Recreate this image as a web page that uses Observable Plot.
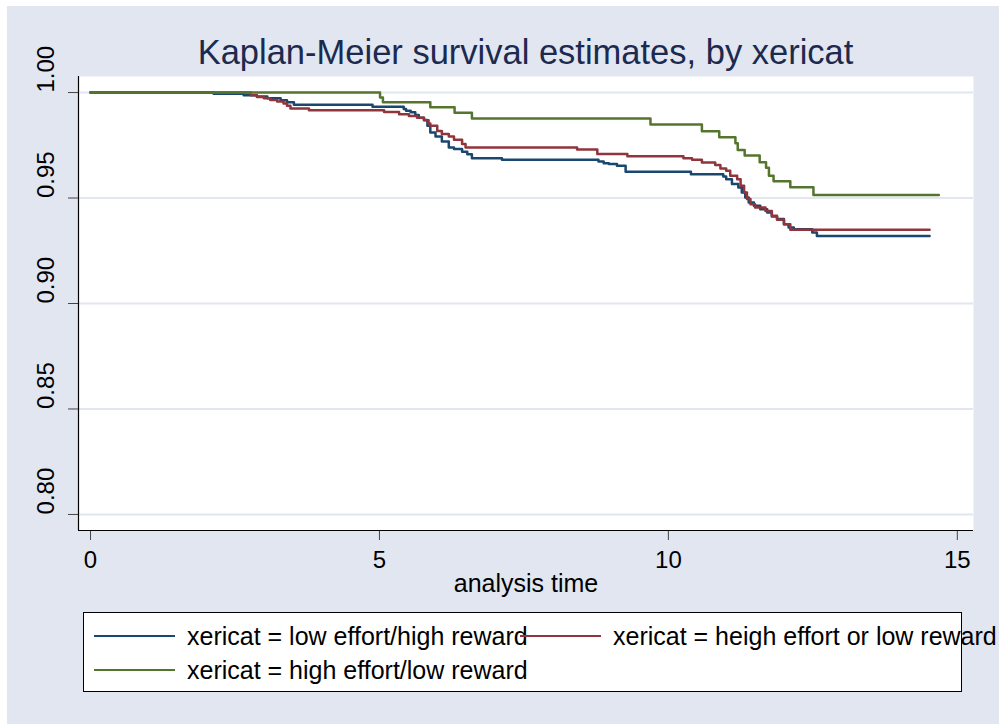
<!DOCTYPE html>
<html>
<head>
<meta charset="utf-8">
<script src="https://cdn.jsdelivr.net/npm/d3@7"></script>
<script src="https://cdn.jsdelivr.net/npm/@observablehq/plot@0.6"></script>
<style>
  html, body { margin: 0; padding: 0; background: #ffffff; }
  #wrap { position: relative; width: 1003px; height: 724px; overflow: hidden; font-family: "Liberation Sans", Arial, sans-serif; }
  #bg { position: absolute; left: 7px; top: 6px; width: 992px; height: 718px; background: #e1e6f0; }
  #chart { position: absolute; left: 0; top: 0; }
  #title { position: absolute; left: 78px; width: 895px; top: 32px; text-align: center; font-size: 34.5px; line-height: 40px; color: #1c2a4f; white-space: nowrap; }
  #legend { position: absolute; left: 83px; top: 612px; width: 879px; height: 80px; background: #fff; border: 1px solid #000; box-sizing: border-box; overflow: visible; }
  .item { position: absolute; font-size: 25px; line-height: 30px; color: #000; white-space: nowrap; }
  .swatch { position: absolute; height: 2px; width: 81px; }
</style>
</head>
<body>
<div id="wrap">
  <div id="bg"></div>
  <div id="title"></div>
  <div id="chart"></div>
  <div id="legend"></div>
</div>
<script>
// ---- data ----
const titleText = "Kaplan-Meier survival estimates, by xericat";
const xLabel = "analysis time";
const seriesNames = [
  "xericat = low effort/high reward",
  "xericat = heigh effort or low reward",
  "xericat = high effort/low reward"
];
const seriesColors = ["#1a476f", "#90353b", "#55752f"];
const xTicks = [0, 5, 10, 15];
const yTicks = [0.80, 0.85, 0.90, 0.95, 1.00];

const lowT = [0, 2.13, 2.65, 2.88, 3.06, 3.29, 3.40, 3.52, 4.88, 5.42, 5.46, 5.54, 5.62, 5.68, 5.77, 5.83, 5.88, 5.97, 6.08, 6.20, 6.29, 6.43, 6.52, 6.60, 7.12, 8.79, 8.88, 8.97, 9.11, 9.26, 10.39, 10.95, 11.00, 11.10, 11.21, 11.27, 11.33, 11.39, 11.48, 11.59, 11.71, 11.79, 11.88, 12.00, 12.08, 12.17, 12.49, 12.57, 14.52];
const lowS = [1.000, 0.9994, 0.9987, 0.9981, 0.9973, 0.9964, 0.9954, 0.9942, 0.9933, 0.9922, 0.9914, 0.9906, 0.9893, 0.9881, 0.9870, 0.9842, 0.9811, 0.9792, 0.9768, 0.9740, 0.9732, 0.9719, 0.9708, 0.9689, 0.9681, 0.9673, 0.9665, 0.9661, 0.9653, 0.9624, 0.9613, 0.9602, 0.9589, 0.9566, 0.9550, 0.9526, 0.9502, 0.9479, 0.9463, 0.9447, 0.9431, 0.9412, 0.9400, 0.9376, 0.9360, 0.9352, 0.9336, 0.9320, 0.9320];

const heighT = [0, 2.77, 2.88, 3.00, 3.11, 3.23, 3.34, 3.40, 3.46, 3.78, 5.08, 5.34, 5.51, 5.65, 5.77, 5.85, 5.88, 6.00, 6.08, 6.20, 6.29, 6.43, 6.49, 8.42, 8.77, 9.29, 10.26, 10.41, 10.58, 10.81, 10.90, 11.00, 11.07, 11.19, 11.25, 11.31, 11.36, 11.42, 11.50, 11.68, 11.79, 11.88, 12.00, 12.11, 14.52];
const heighS = [1.000, 0.9987, 0.9979, 0.9973, 0.9965, 0.9957, 0.9948, 0.9937, 0.9924, 0.9916, 0.9908, 0.9897, 0.9889, 0.9881, 0.9869, 0.9853, 0.9842, 0.9818, 0.9803, 0.9792, 0.9776, 0.9756, 0.9739, 0.9730, 0.9709, 0.9698, 0.9689, 0.9681, 0.9668, 0.9657, 0.9640, 0.9629, 0.9606, 0.9589, 0.9558, 0.9526, 0.9495, 0.9471, 0.9455, 0.9439, 0.9416, 0.9397, 0.9376, 0.9350, 0.9350];

const highT = [0, 5.01, 5.06, 5.88, 6.30, 6.60, 9.69, 10.58, 10.88, 11.16, 11.20, 11.32, 11.58, 11.69, 11.74, 11.82, 12.11, 12.51, 14.68];
const highS = [1.000, 0.9976, 0.9954, 0.9930, 0.9904, 0.9877, 0.9848, 0.9817, 0.9788, 0.9760, 0.9728, 0.9701, 0.9669, 0.9643, 0.9606, 0.9579, 0.9551, 0.9514, 0.9514];

// ---- build table ----
const seriesT = [lowT, heighT, highT];
const seriesS = [lowS, heighS, highS];
const data = [];
seriesNames.forEach((name, i) => {
  seriesT[i].forEach((t, j) => data.push({series: name, t, s: seriesS[i][j]}));
});

const xDomain = [-0.208, 15.28];
const yDomain = [0.7924, 1.0076];

document.getElementById("title").textContent = titleText;

const chart = Plot.plot({
  width: 1003,
  height: 600,
  marginLeft: 78,
  marginRight: 30,
  marginTop: 76,
  marginBottom: 70,
  style: {background: "transparent", fontFamily: "'Liberation Sans', Arial, sans-serif", color: "#000"},
  x: {domain: xDomain},
  y: {domain: yDomain},
  color: {domain: seriesNames, range: seriesColors},
  marks: [
    Plot.frame({fill: "white", stroke: "none"}),
    Plot.ruleY(yTicks, {stroke: "#e1e6f0", strokeWidth: 2}),
    Plot.line(data, {x: "t", y: "s", z: "series", stroke: "series", curve: "step-after", strokeWidth: 2.5}),
    Plot.axisY({ticks: yTicks, tickSize: 10, tickFormat: () => "", stroke: "#444", label: null}),
    Plot.text(yTicks, {frameAnchor: "left", y: d => d, text: d => d.toFixed(2), rotate: -90, dx: -32, fontSize: 24, fill: "#000"}),
    Plot.axisX({ticks: xTicks, tickSize: 10, tickPadding: 10, fontSize: 24, stroke: "#444", fill: "#000", label: null}),
    Plot.text([xLabel], {frameAnchor: "bottom", dy: 61, fontSize: 25, fill: "#000"}),
    Plot.ruleX([xDomain[0]], {stroke: "#000", strokeWidth: 1.2}),
    Plot.ruleY([yDomain[0]], {stroke: "#000", strokeWidth: 1.2})
  ]
});
document.getElementById("chart").appendChild(chart);

// ---- legend ----
const legend = document.getElementById("legend");
const pos = [[10, 23], [436, 23], [10, 57]];
seriesNames.forEach((name, i) => {
  const [lx, ly] = pos[i];
  const sw = document.createElement("div");
  sw.className = "swatch";
  sw.style.left = lx + "px";
  sw.style.top = (ly - 1) + "px";
  sw.style.background = seriesColors[i];
  legend.appendChild(sw);
  const tx = document.createElement("div");
  tx.className = "item";
  tx.style.left = (lx + 93) + "px";
  tx.style.top = (ly - 15) + "px";
  tx.textContent = name;
  legend.appendChild(tx);
});
</script>
</body>
</html>
